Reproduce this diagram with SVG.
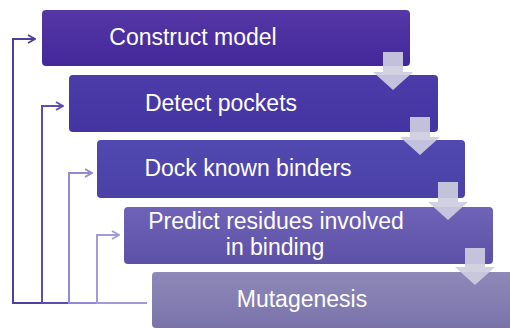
<svg xmlns="http://www.w3.org/2000/svg" width="510" height="330" viewBox="0 0 510 330">
  <defs>
    <linearGradient id="g1" x1="0" y1="0" x2="0" y2="1">
      <stop offset="0" stop-color="#5637a6"/>
      <stop offset="1" stop-color="#42289a"/>
    </linearGradient>
    <linearGradient id="g2" x1="0" y1="0" x2="0" y2="1">
      <stop offset="0" stop-color="#4c3caa"/>
      <stop offset="1" stop-color="#4434a2"/>
    </linearGradient>
    <linearGradient id="g3" x1="0" y1="0" x2="0" y2="1">
      <stop offset="0" stop-color="#5249b0"/>
      <stop offset="1" stop-color="#4a40a6"/>
    </linearGradient>
    <linearGradient id="g4" x1="0" y1="0" x2="0" y2="1">
      <stop offset="0" stop-color="#6f63b8"/>
      <stop offset="1" stop-color="#5c51a6"/>
    </linearGradient>
    <linearGradient id="g5" x1="0" y1="0" x2="0" y2="1">
      <stop offset="0" stop-color="#8e89b9"/>
      <stop offset="1" stop-color="#7a73aa"/>
    </linearGradient>
    <marker id="chev" viewBox="0 0 10 10" refX="9" refY="5" markerWidth="10" markerHeight="10" markerUnits="userSpaceOnUse" orient="auto">
      <path d="M2,1 L9,5 L2,9" fill="none" stroke="context-stroke" stroke-width="1.8"/>
    </marker>
  </defs>
  <style>
    .box text { font-family: "Liberation Sans", Arial, sans-serif; font-size: 23px; fill: #ffffff; text-anchor: middle; }
    .flow { fill: #cdcde0; fill-opacity: 0.92; }
    .fb { fill: none; stroke-width: 2; }
  </style>

  <rect width="510" height="330" fill="#ffffff"/>

  <!-- process steps -->
  <g id="step1" class="box">
    <rect x="42" y="10" width="368" height="56" rx="4" fill="url(#g1)"/>
    <text x="193" y="45">Construct model</text>
  </g>
  <g id="step2" class="box">
    <rect x="69" y="75" width="369" height="57" rx="4" fill="url(#g2)"/>
    <text x="221" y="111">Detect pockets</text>
  </g>
  <g id="step3" class="box">
    <rect x="97" y="140" width="368" height="58" rx="4" fill="url(#g3)"/>
    <text x="248" y="176">Dock known binders</text>
  </g>
  <g id="step4" class="box">
    <rect x="124" y="207" width="369" height="57" rx="4" fill="url(#g4)"/>
    <text x="276" y="229">Predict residues involved</text>
    <text x="275" y="255">in binding</text>
  </g>
  <g id="step5" class="box">
    <rect x="152" y="272" width="370" height="56" rx="4" fill="url(#g5)"/>
    <text x="302" y="307">Mutagenesis</text>
  </g>

  <!-- connectors -->
  <g id="connectors">
    <!-- downward flow arrows between steps -->
    <path class="flow" d="M383,52 H403 V72 H413 L393,90 L373,72 H383 Z"/>
    <path class="flow" d="M410,117 H430 V137 H440 L420,155 L400,137 H410 Z"/>
    <path class="flow" d="M438,182 H458 V202 H468 L448,220 L428,202 H438 Z"/>
    <path class="flow" d="M465,248 H485 V267 H495 L475,285 L455,267 H465 Z"/>

    <!-- feedback loops from mutagenesis -->
    <path class="fb" d="M147,303 H13 V39 H35" stroke="#4e3ea0" marker-end="url(#chev)"/>
    <path class="fb" d="M147,303 H42 V106 H63" stroke="#5c4db2" marker-end="url(#chev)"/>
    <path class="fb" d="M147,303 H69 V173 H92" stroke="#9189d2" marker-end="url(#chev)"/>
    <path class="fb" d="M147,303 H97 V235 H119" stroke="#a29adb" marker-end="url(#chev)"/>
  </g>
</svg>
